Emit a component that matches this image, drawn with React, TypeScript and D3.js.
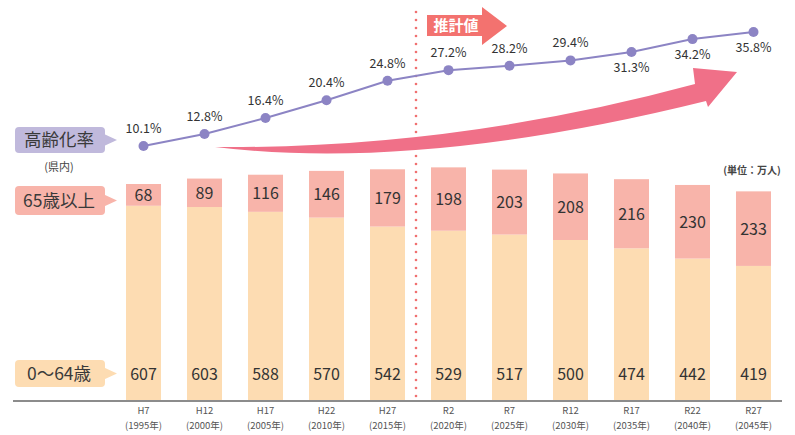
import React from "react";
import * as d3 from "d3";

const categories = ["H7", "H12", "H17", "H22", "H27", "R2", "R7", "R12", "R17", "R22", "R27"];
const years = ["(1995年)", "(2000年)", "(2005年)", "(2010年)", "(2015年)", "(2020年)", "(2025年)", "(2030年)", "(2035年)", "(2040年)", "(2045年)"];
const young = [607, 603, 588, 570, 542, 529, 517, 500, 474, 442, 419];
const elderly = [68, 89, 116, 146, 179, 198, 203, 208, 216, 230, 233];
const agingRate = [10.1, 12.8, 16.4, 20.4, 24.8, 27.2, 28.2, 29.4, 31.3, 34.2, 35.8];
const labelBelow = [false, false, false, false, false, false, false, false, true, true, true];

const FONT = "'Noto Sans CJK JP', 'Noto Sans', sans-serif";

export default function App() {
  const W = 795, H = 435;
  const x = d3.scaleBand<string>().domain(categories).range([126, 771]).paddingInner(0.426).paddingOuter(0);
  const y = d3.scaleLinear().domain([0, 1000]).range([400, 80]);
  const yr = d3.scaleLinear().domain([10.1, 35.8]).range([146, 32]);
  const bw = x.bandwidth();
  const cx = (c: string) => (x(c) as number) + bw / 2;

  const line = d3.line<number>().x((_, i) => cx(categories[i])).y((d) => yr(d));

  const dotted: number[] = d3.range(12, 400, 8);
  const divX = 416;

  const legend = (yTop: number, h: number, fill: string, text: string) => {
    const cy = yTop + h / 2;
    return (
      <g>
        <rect x={15} y={yTop} width={90} height={h} rx={4} fill={fill} />
        <path d={`M104,${cy - 6} L117,${cy} L104,${cy + 6} Z`} fill={fill} />
        <text x={59} y={cy + 6} textAnchor="middle" fontSize={17.5} fill="#3a3a3a" fontFamily={FONT}>{text}</text>
      </g>
    );
  };

  const arrowPath =
    "M215,147 Q455,149 695,84 L693,68 L737,72 L708,107 L706,101 Q419.5,172 215,147 Z";

  return (
    <svg width={W} height={H} style={{ position: "absolute", left: 0, top: 0, background: "#fff" }} fontFamily={FONT}>
      {categories.map((c, i) => {
        const x0 = x(c) as number;
        const yb = y(young[i]);
        const yt = y(young[i] + elderly[i]);
        return (
          <g key={c}>
            <rect x={x0} y={yb} width={bw} height={y(0) - yb} fill="#fddcb2" />
            <rect x={x0} y={yt} width={bw} height={yb - yt} fill="#f8b4aa" />
            <text x={cx(c)} y={(yt + yb) / 2 + 6} textAnchor="middle" fontSize={16} fill="#333">{elderly[i]}</text>
            <text x={cx(c)} y={380} textAnchor="middle" fontSize={16} fill="#333">{young[i]}</text>
          </g>
        );
      })}

      <line x1={13} x2={782} y1={401} y2={401} stroke="#666" strokeWidth={1.5} />
      {categories.map((c, i) => (
        <g key={"xl" + c}>
          <text x={cx(c)} y={414} textAnchor="middle" fontSize={9.5} fill="#555">{c}</text>
          <text x={cx(c)} y={428.5} textAnchor="middle" fontSize={9.5} fill="#555">{years[i]}</text>
        </g>
      ))}

      {dotted.map((d) => (
        <circle key={"dt" + d} cx={divX} cy={d} r={1.3} fill="#f07070" />
      ))}

      <path d={arrowPath} fill="#f07088" />

      <path d="M427,15 L482,15 L482,7 L507,26 L482,45 L482,36 L427,36 Z" fill="#f3726f" />
      <text x={456} y={31} textAnchor="middle" fontSize={15} fontWeight="bold" fill="#fff">推計値</text>

      <path d={line(agingRate) as string} fill="none" stroke="#8c84c4" strokeWidth={2} />
      {agingRate.map((v, i) => (
        <g key={"pt" + i}>
          <circle cx={cx(categories[i])} cy={yr(v)} r={5} fill="#8c84c4" />
          <text
            x={cx(categories[i])}
            y={labelBelow[i] ? yr(v) + 20 : yr(v) - 13}
            textAnchor="middle"
            fontSize={12.5}
            fill="#333"
          >
            {v.toFixed(1)}%
          </text>
        </g>
      ))}

      {legend(127, 26, "#c0b9dc", "高齢化率")}
      <text x={59} y={171} textAnchor="middle" fontSize={11} fill="#444">(県内)</text>
      {legend(186, 29, "#f8b4aa", "65歳以上")}
      {legend(360, 27, "#fddcb2", "0～64歳")}

      <text x={752} y={174} textAnchor="middle" fontSize={10} fontWeight="bold" fill="#444">(単位：万人)</text>
    </svg>
  );
}
